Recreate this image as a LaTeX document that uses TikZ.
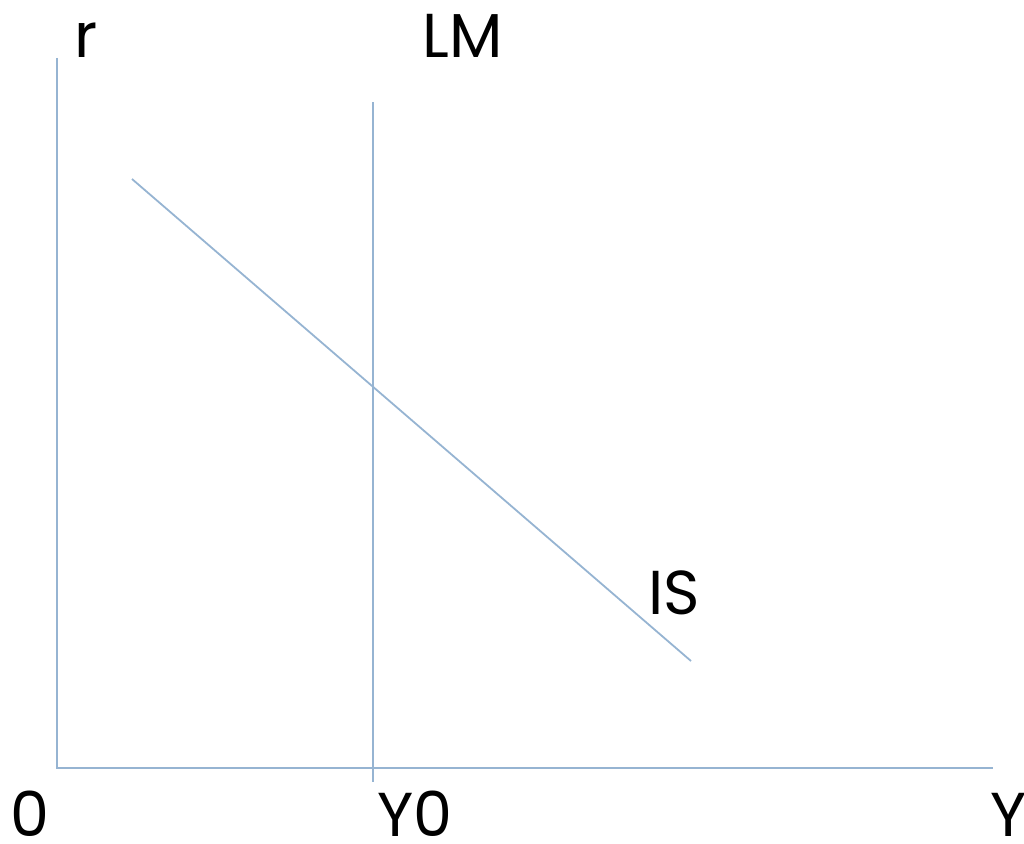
\documentclass[tikz,border=0pt]{standalone}
\usepackage{fontspec}
\setmainfont{Poppins}
\begin{document}
\begin{tikzpicture}[x=1pt,y=-1pt,
  curve/.style={draw={rgb,255:red,150;green,180;blue,210}, line width=1.8pt},
  lbl/.style={font=\fontsize{62}{62}\selectfont, inner sep=0pt, anchor=base, text=black}]
\useasboundingbox (0,0) rectangle (1024,843);
\coordinate (top) at (57,58);
\coordinate (origin) at (57,768);
\coordinate (xend) at (993,768);
\coordinate (lmtop) at (373,102);
\coordinate (lmbot) at (373,782);
\coordinate (istop) at (132,179);
\coordinate (isbot) at (691,661);
\draw[curve] (top) -- (origin) -- (xend);
\draw[curve] (lmtop) -- (lmbot);
\draw[curve] (istop) -- (isbot);
\node[lbl] (r) at (86,57) {r};
\node[lbl] (LM) at (463,57) {LM};
\node[lbl] (IS) at (674,614) {IS};
\node[lbl] (O) at (30,836) {0};
\node[lbl] (Y0) at (415,836) {Y0};
\node[lbl, anchor=base west] (Y) at (990,836) {Y};
\end{tikzpicture}
\end{document}
